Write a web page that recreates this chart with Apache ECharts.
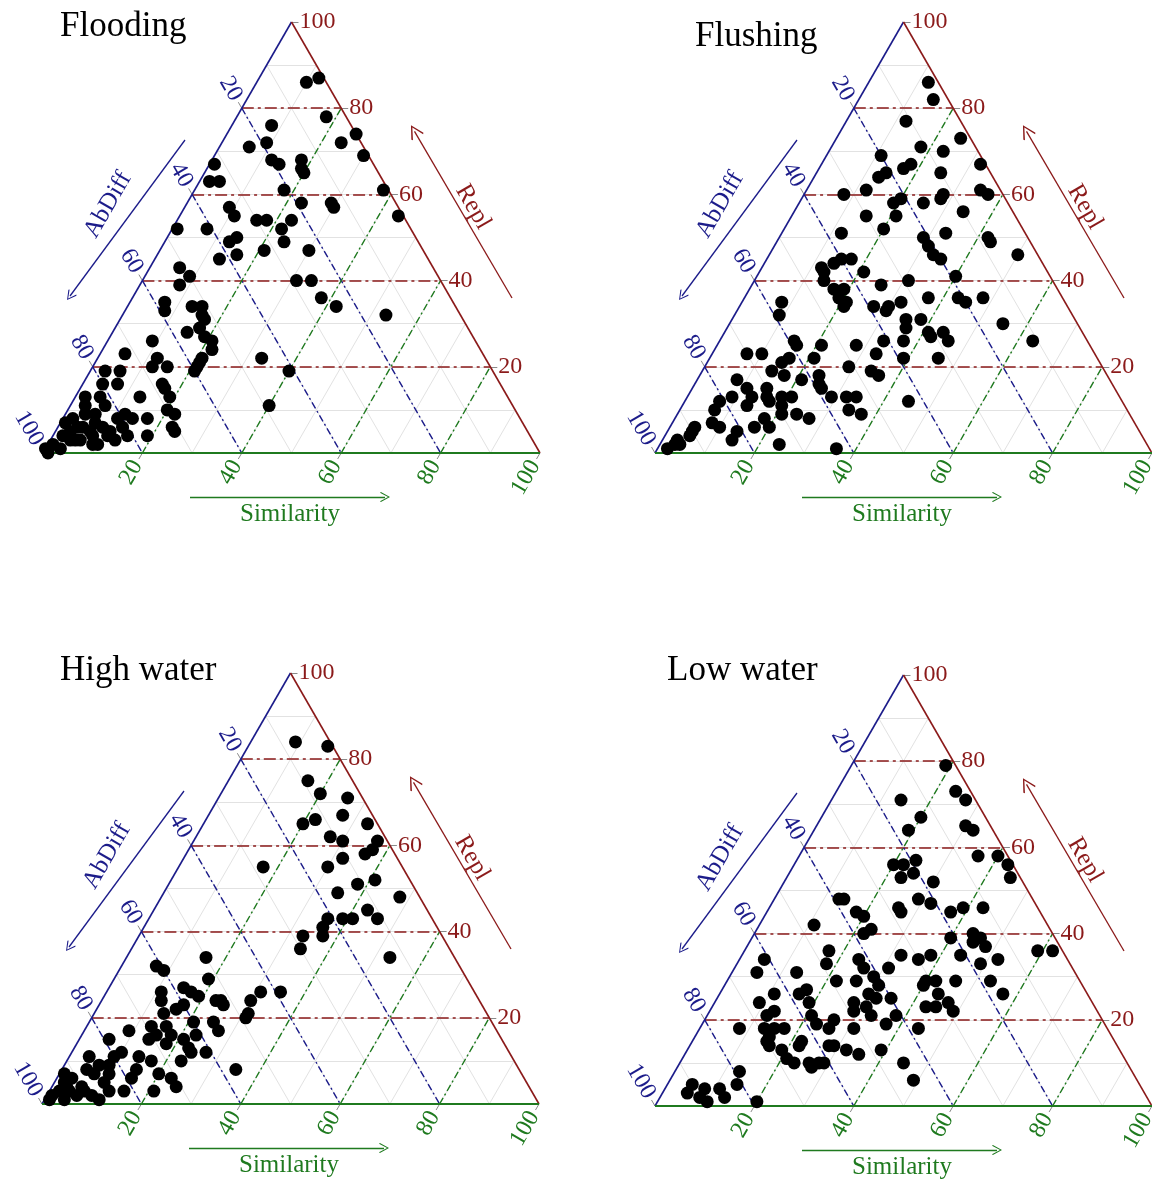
<!DOCTYPE html>
<html><head><meta charset="utf-8">
<script src="https://cdn.jsdelivr.net/npm/echarts@6/dist/echarts.min.js"></script>
<style>html,body{margin:0;padding:0;background:#fff}#chart{width:1152px;height:1182px}</style>
</head><body><div id="chart"></div>
<script>
// ---- data ----
const panelTitles = ['Flooding', 'Flushing', 'High water', 'Low water'];
const tickValues = [20, 40, 60, 80, 100];
const axisNames = ['Similarity', 'Repl', 'AbDiff'];
// each point: [Similarity, Repl]; AbDiff = 100 - Similarity - Repl
const flooding = [[10,86],[12,87],[18,78],[8,76],[9,72],[6,71],[24,72],[26,74],[30,69],[1,67],[12,68],[14,67],[18,68],[19,66],[20,65],[2,63],[4,63],[18,61],[23,58],[29,58],[30,57],[38,61],[44,55],[9,57],[11,55],[1,52],[7,52],[16,54],[18,54],[22,52],[23,54],[24,49],[14,50],[13,49],[13,45],[16,46],[21,47],[30,47],[6,43],[9,41],[8,39],[31,40],[34,40],[38,36],[42,34],[53,32],[7,35],[8,33],[13,34],[15,34],[16,32],[17,31],[17,29],[19,27],[21,26],[22,24],[21,22],[21,21],[21,20],[21,19],[15,28],[9,26],[5,23],[12,22],[15,20],[12,20],[3,19],[6,19],[4,16],[7,16],[16,16],[17,15],[19,13],[13,13],[2,13],[5,13],[3,11],[7,11],[4,9],[20,10],[22,9],[23,6],[24,5],[17,8],[19,4],[33,22],[40,11],[40,19],[15,4],[1,7],[4,6],[5,6],[7,5],[7,7],[9,6],[11,5],[11,4],[9,2],[6,3],[4,3],[2,4],[1,2],[0,1],[11,8],[13,6],[12,9],[14,8],[3,5],[5,3],[8,4],[10,2],[13,3],[2,8],[6,9],[3,1],[1,0]];
const flushing = [[12,86],[15,82],[12,77],[25,73],[18,71],[23,70],[32,67],[11,69],[17,66],[18,67],[14,65],[13,64],[25,65],[8,60],[12,61],[19,58],[20,59],[25,58],[28,60],[28,59],[35,61],[37,60],[34,56],[15,55],[21,55],[20,52],[12,51],[29,50],[33,51],[42,50],[43,49],[31,48],[33,46],[35,45],[50,46],[15,45],[17,45],[12,43],[14,44],[13,42],[14,40],[21,42],[26,39],[31,40],[40,41],[17,38],[19,38],[19,36],[21,35],[21,34],[8,35],[9,32],[27,34],[30,34],[30,33],[32,35],[37,36],[43,36],[45,35],[48,36],[35,31],[36,29],[38,31],[41,28],[42,27],[44,28],[46,26],[55,30],[63,26],[15,26],[16,25],[21,25],[28,25],[33,26],[37,26],[39,22],[33,23],[46,22],[7,23],[10,23],[15,21],[16,22],[21,22],[29,20],[34,19],[36,18],[14,19],[17,18],[21,17],[24,18],[25,16],[26,15],[8,17],[11,15],[13,13],[15,15],[16,13],[17,12],[19,13],[21,13],[20,11],[21,9],[9,13],[7,12],[7,10],[13,11],[29,13],[32,13],[34,13],[34,10],[37,9],[45,12],[24,9],[27,8],[18,8],[20,6],[8,7],[10,6],[5,6],[5,5],[5,4],[3,3],[3,2],[4,2],[14,5],[17,6],[14,3],[24,2],[36,1],[2,1]];
const highWater = [[9,84],[16,83],[16,75],[20,72],[26,71],[20,65],[22,66],[27,67],[33,65],[27,62],[30,61],[37,61],[37,59],[36,58],[32,57],[30,55],[17,55],[38,51],[41,52],[35,49],[48,48],[43,45],[46,43],[36,43],[36,41],[37,39],[39,43],[41,43],[33,39],[34,36],[53,34],[7,32],[9,31],[16,34],[19,29],[15,27],[31,26],[35,26],[11,26],[12,24],[14,21],[17,26],[19,25],[23,24],[24,24],[25,23],[30,24],[31,21],[31,20],[16,22],[17,23],[21,19],[25,19],[27,17],[9,17],[6,15],[13,18],[15,16],[14,15],[16,18],[18,16],[18,14],[21,15],[23,13],[24,12],[23,16],[27,12],[23,10],[35,8],[10,12],[9,11],[4,11],[14,11],[15,8],[15,6],[17,10],[20,7],[23,6],[25,4],[21,3],[15,3],[7,9],[9,9],[10,7],[7,7],[10,5],[1,7],[3,6],[2,5],[6,4],[4,3],[2,3],[1,2],[7,3],[9,2],[1,1],[4,1],[6,2],[12,3],[11,1],[3,4],[5,8]];
const lowWater = [[19,79],[24,73],[27,71],[14,71],[20,67],[19,64],[30,65],[32,64],[40,58],[43,56],[36,58],[45,53],[20,56],[22,56],[24,57],[23,53],[25,54],[30,52],[14,48],[13,48],[26,46],[27,45],[29,48],[32,47],[37,45],[39,46],[43,46],[18,45],[20,44],[23,41],[22,40],[11,42],[40,39],[44,40],[46,39],[45,38],[48,37],[59,36],[62,36],[44,35],[52,34],[49,33],[53,29],[57,26],[32,35],[36,34],[38,35],[46,29],[40,29],[42,29],[40,28],[44,26],[47,24],[49,22],[43,23],[45,23],[17,36],[18,33],[24,34],[26,32],[31,32],[29,30],[31,28],[30,26],[32,25],[35,25],[22,29],[26,29],[28,24],[29,22],[31,23],[33,21],[38,21],[37,19],[44,18],[13,31],[5,34],[5,31],[11,26],[9,24],[16,26],[17,27],[19,24],[21,21],[23,19],[26,20],[26,18],[31,18],[12,21],[13,22],[13,18],[15,18],[17,18],[15,16],[15,15],[16,14],[19,13],[8,18],[22,15],[22,14],[28,14],[29,14],[32,13],[35,12],[39,13],[21,11],[23,10],[26,10],[27,9],[28,10],[29,10],[45,10],[49,6],[13,8],[14,5],[5,5],[5,3],[8,4],[8,2],[11,4],[13,2],[10,1],[20,1]];

// ---- layout & style ----
const datasets = [flooding, flushing, highWater, lowWater];
const layout = [
  {vx: 43, vy: 453, tl: 60, tt: 9},
  {vx: 655, vy: 453, tl: 695, tt: 19},
  {vx: 42, vy: 1104, tl: 60, tt: 653},
  {vx: 655, vy: 1106, tl: 667, tt: 653}
];
const FONT = '"Liberation Serif", "Times New Roman", serif';
const RED = '#8b1a1a', BLUE = '#1c1c8a', GREEN = '#1f7a1f', GRID = '#e2e2e2', TICK = '#8a8a8a';
const W = 497, H = 431, PX = W / 100, PY = H / 100;
const pt = (s, r) => [s + r / 2, r];                    // ternary -> cartesian units
const off = (p, dx, dy) => [p[0] + dx / PX, p[1] - dy / PY]; // pixel offset
const px = (dx, dy) => off([0, 0], dx, dy);
const chevron = 'path://M0,0 L10,13 L8.4,14.3 L0,2.8 L-8.4,14.3 L-10,13 Z';

const chart = echarts.init(document.getElementById('chart'));
const grids = [], xAxes = [], yAxes = [], series = [], titles = [];

layout.forEach((L, i) => {
  grids.push({left: L.vx, top: L.vy - H, width: W, height: H});
  xAxes.push({gridIndex: i, type: 'value', min: 0, max: 100, show: false});
  yAxes.push({gridIndex: i, type: 'value', min: 0, max: 100, show: false});
  titles.push({text: panelTitles[i], left: L.tl, top: L.tt, padding: 0,
    textStyle: {fontFamily: FONT, fontSize: 35, lineHeight: 35, fontWeight: 'normal', color: '#000'}});
  const ax = {xAxisIndex: i, yAxisIndex: i};
  const lines = (coords, style, extra) => Object.assign({
    type: 'lines', coordinateSystem: 'cartesian2d', ...ax, silent: true, clip: false,
    symbol: 'none', z: 2, data: coords.map(c => ({coords: c})),
    lineStyle: Object.assign({opacity: 1, width: 1}, style)
  }, extra || {});
  const labels = (items, color, extra) => ({
    type: 'scatter', ...ax, symbolSize: 1, itemStyle: {color: 'rgba(0,0,0,0)', opacity: 1}, silent: true, clip: false, z: 6,
    data: items.map(it => ({value: it.pos, label: Object.assign({show: true, position: 'inside',
      formatter: it.text, color: color, opacity: 1, fontFamily: FONT, fontSize: 24}, extra || {}, it.style || {})}))
  });

  // fine grid
  const fine = [];
  for (let v = 10; v < 100; v += 10) {
    fine.push([pt(0, v), pt(100 - v, v)]);
    fine.push([pt(0, 100 - v), pt(100 - v, 0)]);
    fine.push([pt(v, 0), pt(v, 100 - v)]);
  }
  series.push(lines(fine, {color: GRID, width: 1}, {z: 1}));
  const major = tickValues.filter(v => v < 100);
  series.push(lines(major.map(v => [pt(0, v), pt(100 - v, v)]), {color: RED, width: 1.5, type: [12, 4, 3, 4]}));
  series.push(lines(major.map(v => [pt(0, 100 - v), pt(100 - v, 0)]), {color: BLUE, width: 1.4, type: [7, 3, 2, 3]}));
  series.push(lines(major.map(v => [pt(v, 0), pt(v, 100 - v)]), {color: GREEN, width: 1.4, type: [7, 3, 2, 3]}));
  // ticks
  const ticks = [];
  tickValues.forEach(v => {
    ticks.push([pt(100 - v, v), off(pt(100 - v, v), 7, 0)]);
    ticks.push([pt(v, 0), off(pt(v, 0), -3.5, 6)]);
    ticks.push([pt(0, 100 - v), off(pt(0, 100 - v), -3.5, -6)]);
  });
  series.push(lines(ticks, {color: TICK, width: 1}));
  // edges
  series.push(lines([[pt(0, 0), pt(0, 100)]], {color: BLUE, width: 1.6}, {z: 3}));
  series.push(lines([[pt(100, 0), pt(0, 100)]], {color: RED, width: 1.6}, {z: 3}));
  series.push(lines([[pt(0, 0), pt(100, 0)]], {color: GREEN, width: 1.8}, {z: 3}));
  // axis arrows
  series.push(lines([[px(371.5, -321.7), px(469, -155)]], {color: RED, width: 1.3}, {symbol: [chevron, 'none'], symbolSize: [14, 10]}));
  series.push(lines([[px(142, -313), px(27, -157)]], {color: BLUE, width: 1.3}, {symbol: ['none', chevron], symbolSize: [14, 10]}));
  series.push(lines([[px(147, 44), px(342, 44)]], {color: GREEN, width: 1.3}, {symbol: ['none', chevron], symbolSize: [14, 10]}));

  // points
  series.push({type: 'scatter', ...ax, clip: false, z: 4, symbolSize: 13, itemStyle: {color: '#000', opacity: 1},
    data: datasets[i].map(([s, r]) => [s + r / 2, r, 100 - s - r])});

  // tick labels
  series.push(labels(tickValues.map(v => ({pos: off(pt(100 - v, v), 8, 0), text: String(v)})), RED,
    {align: 'left', verticalAlign: 'middle'}));
  series.push(labels(tickValues.map(v => ({pos: off(pt(v, 0), -5, 9), text: String(v)})), GREEN,
    {align: 'right', verticalAlign: 'middle', rotate: 60}));
  series.push(labels(tickValues.map(v => ({pos: off(pt(0, 100 - v), -5, -9), text: String(v)})), BLUE,
    {align: 'right', verticalAlign: 'middle', rotate: -60}));
  // axis titles
  series.push(labels([{pos: px(247, 61), text: axisNames[0]}], GREEN, {align: 'center', verticalAlign: 'middle', fontSize: 25}));
  series.push(labels([{pos: px(430, -246), text: axisNames[1]}], RED, {align: 'center', verticalAlign: 'middle', fontSize: 25, rotate: -60}));
  series.push(labels([{pos: px(65, -248), text: axisNames[2]}], BLUE, {align: 'center', verticalAlign: 'middle', fontSize: 25, rotate: 60}));
});

chart.setOption({
  animation: false,
  backgroundColor: '#fff',
  title: titles,
  grid: grids,
  xAxis: xAxes,
  yAxis: yAxes,
  series: series
});
</script>
</body></html>
